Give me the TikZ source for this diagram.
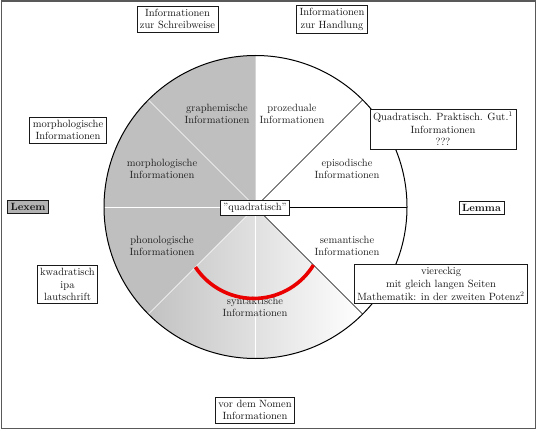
\documentclass[tikz,border=0pt]{standalone}
\usetikzlibrary{calc}
\begin{document}
\begin{tikzpicture}[x=1pt,y=1pt,
  every node/.style={font=\fontsize{10.5}{12.6}\selectfont, align=center, text=black!92},
  infobox/.style={draw=black!90, fill=white, line width=0.65pt, inner sep=3pt},
  sectorlabel/.style={inner sep=0pt, text=black!88},
  blackline/.style={line width=0.7pt, draw=black},
  whiteline/.style={line width=0.6pt, draw=white},
]
\useasboundingbox (0,0) rectangle (540,-430);
\draw[line width=1.2pt, draw=black!65] (1.5,-1) rectangle (535.5,-428.5);
\coordinate (c) at (255.5,-207);
\def\R{151.5}
% fills
\fill[black!25] (c) -- ++(90:\R) arc[start angle=90, end angle=225, radius=\R] -- cycle;
\shade[left color=black!24, right color=white] (c) -- ++(225:\R) arc[start angle=225, end angle=315, radius=\R] -- cycle;
% points on circle
\foreach \a in {0,45,90,135,180,225,270,315}{\path (c) ++(\a:\R) coordinate (p\a);}
% sector lines
\draw[whiteline] (c) -- (p135);
\draw[whiteline] (c) -- (p180);
\draw[whiteline] (c) -- (p225);
\draw[whiteline] (c) -- (p270);
\draw[blackline] (c) -- (p0);
\draw[blackline] (c) -- (p45);
\draw[blackline] (c) -- (p315);
\draw[line width=1pt] (c) circle[radius=\R];
% sector labels
\node[sectorlabel] (graph) at (217,-114) {graphemische\\Informationen};
\node[sectorlabel] (proz) at (292,-114) {prozeduale\\Informationen};
\node[sectorlabel] (morphs) at (162,-169) {morphologische\\Informationen};
\node[sectorlabel] (epis) at (347,-169) {episodische\\Informationen};
\node[sectorlabel] (phon) at (162,-246) {phonologische\\Informationen};
\node[sectorlabel] (sem) at (347,-246) {semantische\\Informationen};
\node[sectorlabel] (synt) at (255,-307) {syntaktische\\Informationen};
% red arc
\path (c) ++(225:85) coordinate (ra);
\draw[red!92!black, line width=3.6pt] (ra) arc[start angle=213.5, end angle=328.5, radius=70];
% boxes
\node[infobox] (q) at (255,-208) {''quadratisch''};
\node[infobox] (schreib) at (177.5,-19) {Informationen\\zur Schreibweise};
\node[infobox] (handl) at (332,-19.5) {Informationen\\zur Handlung};
\node[infobox] (morph) at (68,-130) {morphologische\\Informationen};
\node[infobox, fill=black!30] (lexem) at (28,-206.5) {\textbf{Lexem}};
\node[infobox] (lemma) at (481.5,-207.5) {\textbf{Lemma}};
\node[infobox] (quad) at (443,-129) {Quadratisch. Praktisch. Gut.$^1$\\Informationen\\???};
\node[infobox] (vier) at (441,-284) {viereckig\\mit gleich langen Seiten\\Mathematik: in der zweiten Potenz$^2$};
\node[infobox] (kwad) at (67.5,-284.5) {kwadratisch\\ipa\\lautschrift};
\node[infobox] (nomen) at (255,-410) {vor dem Nomen\\Informationen};
\end{tikzpicture}
\end{document}
